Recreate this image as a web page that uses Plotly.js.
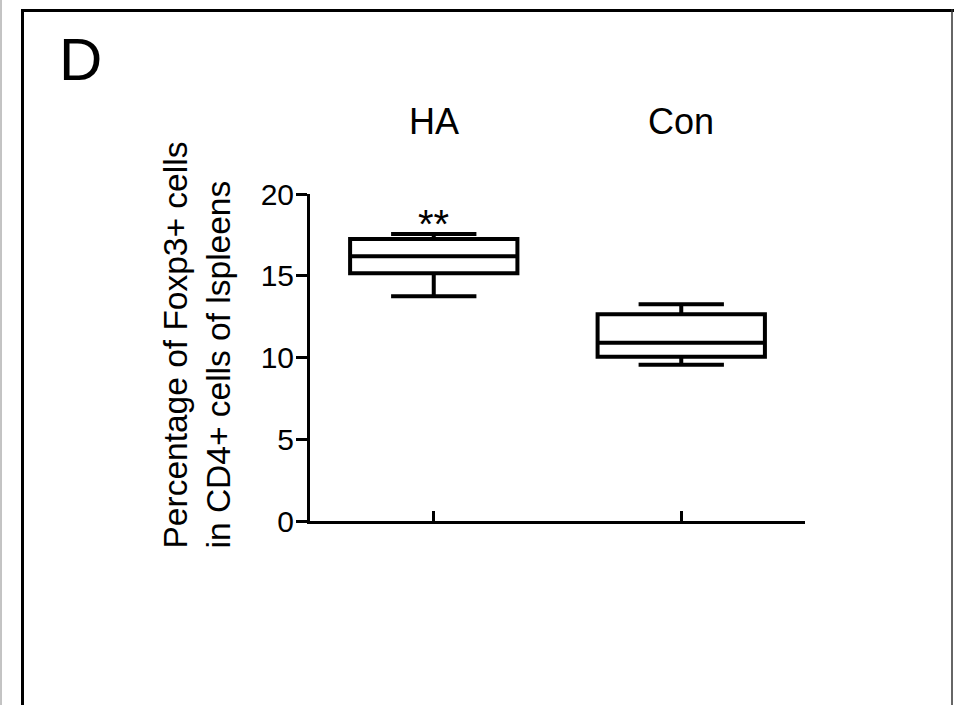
<!DOCTYPE html>
<html><head><meta charset="utf-8">
<script src="https://cdn.plot.ly/plotly-3.0.1.min.js"></script>
<style>html,body{margin:0;padding:0;background:#fff;overflow:hidden;} #chart{width:954px;height:705px;}</style>
</head><body><div id="chart"></div>
<script>
// ---- data ----
const categories = ['HA', 'Con'];
const lowerWhisker = [13.75, 9.55];
const q1Values = [15.15, 10.05];
const medianValues = [16.2, 10.9];
const q3Values = [17.25, 12.65];
const upperWhisker = [17.55, 13.25];
const yTickVals = [0, 5, 10, 15, 20];
const yTickText = ['0', '5', '10', '15', '20'];
const significance = ['**', ''];
const panelLabel = 'D';
const yTitleLines = ['Percentage of Foxp3+ cells', 'in CD4+ cells of lspleens'];

// ---- layout geometry ----
const W = 954, H = 705;
const L = 310, R = 149, T = 194, B = 184;
const PW = W - L - R, PH = H - T - B;
const px = v => (v - L) / PW;
const py = v => (H - B - v) / PH;
const FONT = 'Arial, "Liberation Sans", Helvetica, sans-serif';

const trace = {
  type: 'box',
  x: categories,
  q1: q1Values,
  median: medianValues,
  q3: q3Values,
  lowerfence: lowerWhisker,
  upperfence: upperWhisker,
  boxpoints: false,
  width: 0.676,
  whiskerwidth: 0.51,
  fillcolor: '#ffffff',
  line: {color: '#000000', width: 4},
  hoverinfo: 'skip',
  showlegend: false
};

const annotations = [
  {text: panelLabel, xref: 'paper', yref: 'paper', x: px(80), y: py(59),
   xanchor: 'center', yanchor: 'middle', showarrow: false,
   font: {family: FONT, size: 60, color: '#000'}},
  {text: yTitleLines.join('<br>'), xref: 'paper', yref: 'paper', x: px(197), y: py(551),
   xanchor: 'center', yanchor: 'bottom', textangle: -90, align: 'left', showarrow: false,
   font: {family: FONT, size: 33.5, color: '#000'}}
];
categories.forEach((c, i) => {
  annotations.push({text: c, xref: 'x', yref: 'paper', x: c, y: py(121),
    xanchor: 'center', yanchor: 'middle', showarrow: false,
    font: {family: FONT, size: 36, color: '#000'}});
  if (significance[i]) {
    annotations.push({text: significance[i], xref: 'x', yref: 'paper', x: c, y: py(224),
      xanchor: 'center', yanchor: 'middle', showarrow: false,
      font: {family: FONT, size: 40, color: '#000'}});
  }
});

const shapes = [
  {type: 'line', xref: 'paper', yref: 'paper', x0: px(1), x1: px(1), y0: py(0), y1: py(705), line: {color: '#888', width: 1}},
  {type: 'line', xref: 'paper', yref: 'paper', x0: px(21), x1: px(954), y0: py(10.5), y1: py(10.5), line: {color: '#000', width: 3}},
  {type: 'line', xref: 'paper', yref: 'paper', x0: px(22.5), x1: px(22.5), y0: py(9), y1: py(705), line: {color: '#000', width: 3}},
  {type: 'line', xref: 'paper', yref: 'paper', x0: px(952), x1: px(952), y0: py(9), y1: py(705), line: {color: '#333', width: 1.5}}
];

const layout = {
  width: W, height: H,
  margin: {l: L, r: R, t: T, b: B, pad: 0},
  paper_bgcolor: '#fff', plot_bgcolor: '#fff',
  font: {family: FONT, color: '#000'},
  showlegend: false,
  xaxis: {type: 'category', categoryorder: 'array', categoryarray: categories,
    range: [-0.5, 1.5], showgrid: false, zeroline: false,
    showline: true, linecolor: '#000', linewidth: 3,
    ticks: 'inside', ticklen: 10, tickwidth: 3, tickcolor: '#000',
    showticklabels: false, fixedrange: true},
  yaxis: {range: [0, 20], tickvals: yTickVals, ticktext: yTickText,
    showgrid: false, zeroline: false,
    showline: true, linecolor: '#000', linewidth: 3,
    ticks: 'outside', ticklen: 11, tickwidth: 3, tickcolor: '#000',
    ticklabelstandoff: -4,
    tickfont: {family: FONT, size: 30, color: '#000'}, fixedrange: true},
  annotations: annotations,
  shapes: shapes
};

Plotly.newPlot('chart', [trace], layout, {displayModeBar: false, staticPlot: true});
</script></body></html>
